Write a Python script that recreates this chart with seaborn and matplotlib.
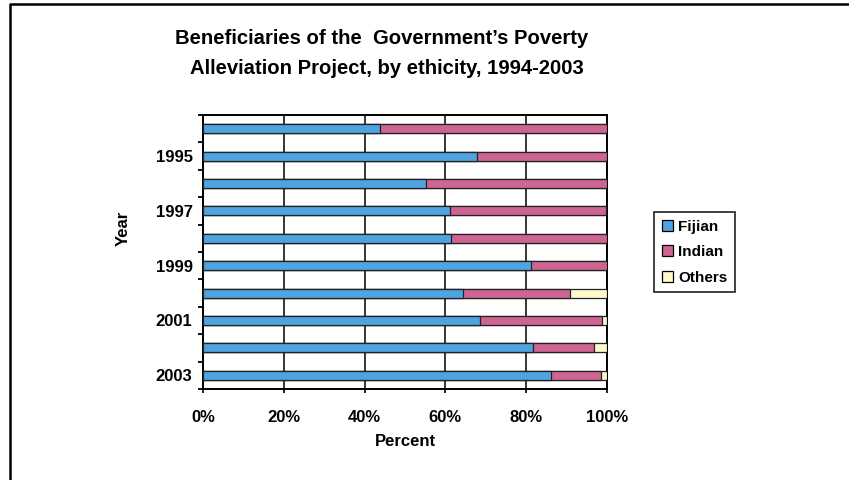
#####----- Stacked 100% bar chart: poverty alleviation beneficiaries by ethnicity

#####----- IMPORTS
import numpy as np
import pandas as pd
import seaborn as sns
import matplotlib.pyplot as plt
from matplotlib.patches import Patch
from matplotlib.lines import Line2D

#####----- DATA
years = ["1994", "1995", "1996", "1997", "1998", "1999", "2000", "2001", "2002", "2003"]
fijian = [43.9, 67.8, 55.3, 61.1, 61.3, 81.1, 64.3, 68.6, 81.8, 86.2]
indian = [56.1, 32.2, 44.7, 38.6, 38.7, 18.9, 26.6, 30.2, 14.9, 12.3]
others = [0.0, 0.0, 0.0, 0.3, 0.0, 0.0, 9.1, 1.2, 3.3, 1.5]
groups = ["Fijian", "Indian", "Others"]
colors = {"Fijian": "#4fa3e0", "Indian": "#cd6491", "Others": "#fffacb"}
x_ticks = [0, 20, 40, 60, 80, 100]
labelled_years = ["1995", "1997", "1999", "2001", "2003"]

#####----- PLOT
sns.set_style("white")
plt.rcParams['font.family'] = ['Liberation Sans', 'DejaVu Sans']
plt.rcParams['font.weight'] = 'bold'
for key in ['text.color', 'axes.labelcolor', 'xtick.color', 'ytick.color']:
    plt.rcParams[key] = 'black'

df = pd.DataFrame({"year": years, "Fijian": fijian, "Indian": indian, "Others": others})
df["cum_fijian"] = df["Fijian"]
df["cum_indian"] = df["Fijian"] + df["Indian"]
df["cum_others"] = df["cum_indian"] + df["Others"]

fig = plt.figure(figsize=(8.49, 4.8), dpi=100)
ax = fig.add_axes([203 / 849, 1 - 389 / 480, 404 / 849, 274 / 480])

# draw back-to-front so each cumulative layer shows its own segment
for col, grp in [("cum_others", "Others"), ("cum_indian", "Indian"), ("cum_fijian", "Fijian")]:
    sns.barplot(data=df, x=col, y="year", order=years, orient="h", color=colors[grp],
                saturation=1, width=0.33, edgecolor="#222222", linewidth=0.9, ax=ax, zorder=3)

ax.set_xlim(0, 100)
ax.set_ylim(9.5, -0.5)
ax.set_xticks(x_ticks)
ax.set_xticklabels([f"{t}%" for t in x_ticks], fontsize=12, fontweight='bold')
ax.grid(axis='x', color='black', linewidth=1.1, zorder=0)
ax.grid(axis='y', visible=False)

# category boundary ticks, labels on odd years only
ax.set_yticks(np.arange(-0.5, 10, 1))
ax.set_yticklabels([])
ax.set_yticks([years.index(y) for y in labelled_years], minor=True)
ax.set_yticklabels(labelled_years, minor=True, fontsize=12, fontweight='bold')
ax.tick_params(axis='y', which='major', direction='out', length=3.5, width=1.3, left=True)
ax.tick_params(axis='y', which='minor', length=0, pad=7.5)
ax.tick_params(axis='x', direction='out', length=3, width=1.2, bottom=True, pad=12)
ax.set_xlabel("")
ax.set_ylabel("")
for s in ax.spines.values():
    s.set_color('black')
    s.set_linewidth(1.4)

fig.text(123 / 849, 1 - 228 / 480, "Year", rotation=90, ha='center', va='center',
         fontsize=12, fontweight='bold')
fig.text(405 / 849, 1 - 442 / 480, "Percent", ha='center', va='center',
         fontsize=12, fontweight='bold')

fig.text(382 / 849, 1 - 39 / 480, "Beneficiaries of the  Government\u2019s Poverty",
         ha='center', va='center', fontsize=14.6, fontweight='bold')
fig.text(387 / 849, 1 - 68 / 480, "Alleviation Project, by ethicity, 1994-2003",
         ha='center', va='center', fontsize=14.6, fontweight='bold')

handles = [Patch(facecolor=colors[g], edgecolor='black', linewidth=0.9, label=g) for g in groups]
leg = fig.legend(handles=handles, loc='upper left', bbox_to_anchor=(654 / 849, 1 - 212 / 480),
                 frameon=True, fancybox=False, fontsize=11, handlelength=0.75, handleheight=0.75,
                 handletextpad=0.35, labelspacing=0.75, borderpad=0.5, borderaxespad=0)
leg.get_frame().set_edgecolor('black')
leg.get_frame().set_linewidth(1.3)
for t in leg.get_texts():
    t.set_fontweight('bold')

# outer chart frame (left and top edges only visible)
fig.add_artist(Line2D([9.5 / 849, 9.5 / 849, 1.0], [0.0, 1 - 3.5 / 480, 1 - 3.5 / 480],
                      color='black', linewidth=1.8, transform=fig.transFigure))

fig.savefig("out.png", dpi=100)
